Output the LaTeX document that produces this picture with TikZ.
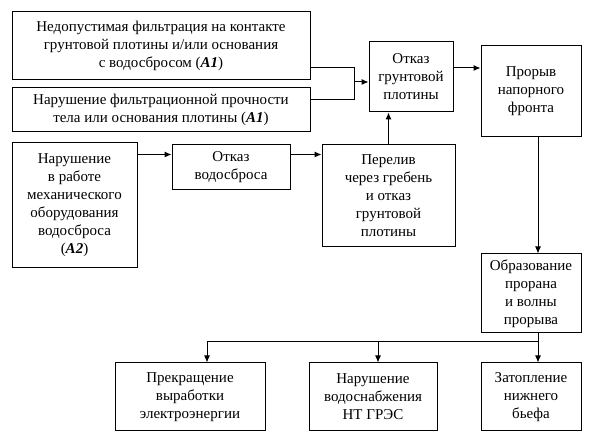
\documentclass[tikz,border=0pt]{standalone}
\usepackage{fontspec}
\setmainfont{Liberation Serif}
\newfontfamily\timesfont{Liberation Serif}
\usetikzlibrary{positioning,arrows.meta}

\begin{document}
\begin{tikzpicture}[x=1pt,y=-1pt,line width=1pt,
      every node/.style={font=\timesfont\fontsize{15}{18}\selectfont},
      box/.style={draw,align=center,inner sep=2pt},
      arr/.style={-{Latex[length=7pt,width=6pt]}}
    ]
    \useasboundingbox (0,0) rectangle (598,443);

    % the causes
    \node[box,minimum width=298,minimum height=68] (filt) at (161,46)
      {Недопустимая фильтрация на контакте\\грунтовой плотины и/или основания\\с водосбросом (\textbf{\textit{A1}})};
    \node[box,minimum width=298,minimum height=44] (proch) at (161,110)
      {Нарушение фильтрационной прочности\\тела или основания плотины (\textbf{\textit{A1}})};
    \node[box,minimum width=125,minimum height=125] (meh) at (74.5,205.5)
      {Нарушение\\в работе\\механического\\оборудования\\водосброса\\(\textbf{\textit{A2}})};

    % the failures
    \node[box,minimum width=84,minimum height=70] (otkpl) at (411,77)
      {Отказ\\грунтовой\\плотины};
    \node[box,minimum width=100,minimum height=91] (proryv) at (531,91.5)
      {Прорыв\\напорного\\фронта};
    \node[box,minimum width=118,minimum height=45] (otkvod) at (231,167.5)
      {Отказ\\водосброса};
    \node[box,minimum width=133,minimum height=102] (perel) at (388.5,196)
      {Перелив\\через гребень\\и отказ\\грунтовой\\плотины};
    \node[box,minimum width=100,minimum height=79] (proran) at (531,293.5)
      {Образование\\прорана\\и волны\\прорыва};

    % the consequences
    \node[box,minimum width=150,minimum height=68] (energ) at (190,397)
      {Прекращение\\выработки\\электроэнергии};
    \node[box,minimum width=128,minimum height=68] (vodsn) at (373,397)
      {Нарушение\\водоснабжения\\НТ ГРЭС};
    \node[box,minimum width=100,minimum height=68] (zatop) at (531,397)
      {Затопление\\нижнего\\бьефа};

    % the joints
    \coordinate (ja) at (354,68);
    \coordinate (jb) at (354,100);
    \coordinate (jc) at (354,82);
    \coordinate (bus) at (538,342);
    \coordinate (b1) at (207,342);
    \coordinate (b2) at (378,342);

    % the edges
    \draw (filt.east |- ja) -- (ja) -- (jb) -- (proch.east |- jb);
    \draw[arr] (jc) -- (otkpl.west |- jc);
    \draw[arr] (otkpl.east |- ja) -- (proryv.west |- ja);
    \draw[arr] ([yshift=-12pt]meh.north east) -- ([yshift=-12pt]meh.north east -| otkvod.west);
    \draw[arr] ([yshift=-10pt]otkvod.north east) -- ([yshift=-10pt]otkvod.north east -| perel.west);
    \draw[arr] (perel.north) -- (perel.north |- otkpl.south);
    \draw[arr] ([xshift=7pt]proryv.south) -- ([xshift=7pt]proran.north);
    \draw[arr] ([xshift=7pt]proran.south) -- ([xshift=7pt]zatop.north);
    \draw[arr] (bus) -- (b1) -- (b1 |- energ.north);
    \draw[arr] (b2) -- (b2 |- vodsn.north);
\end{tikzpicture}
\end{document}
